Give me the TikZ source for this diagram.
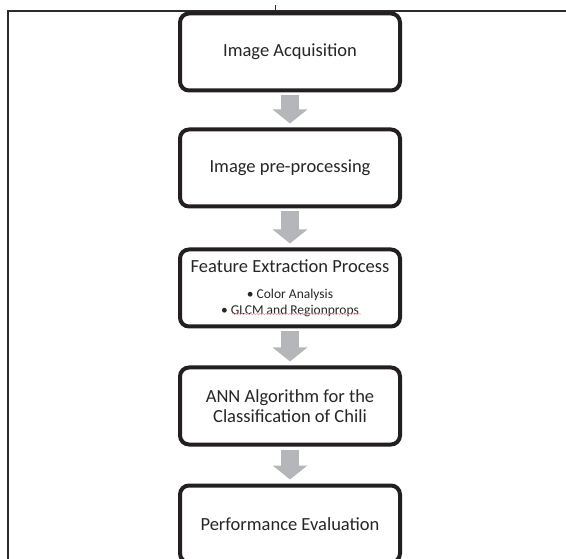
\documentclass[tikz,border=0pt]{standalone}
\usepackage{fontspec}
\setmainfont{Carlito}
\usepackage{xcolor}
\usepackage{tikz}
\usetikzlibrary{arrows.meta,positioning,decorations.pathmorphing}
\definecolor{boxline}{HTML}{231F20}
\definecolor{flowgray}{HTML}{B4B6B9}
\definecolor{frameline}{HTML}{2B2B2B}
\definecolor{ink}{HTML}{262626}
\definecolor{squiggle}{HTML}{E8A0A8}
\newcommand{\bulletfont}{\fontsize{13.5}{16}\selectfont}

\begin{document}
\begin{tikzpicture}[x=1pt,y=-1pt,
  stage/.style={draw=boxline,line width=4pt,rounded corners=9pt,fill=white,
    minimum width=220pt,minimum height=77pt,inner sep=0pt,align=center,
    text=ink,font=\fontsize{18.5}{20}\selectfont},
  flow/.style={flowgray,line width=18pt,-{Triangle[width=34pt,length=14pt]}}]
  \useasboundingbox (0,0) rectangle (566,559);
  % page frame
  \draw[frameline,line width=1.5pt] (8,559) -- (8,11) -- (566,11);
  \draw[frameline,line width=1pt] (275,5) -- (275,11);
  % stages
  \node[stage] (acq) at (290,52) {Image Acquisition};
  \node[stage,below=35pt of acq] (prep) {Image pre-processing};
  \node[stage,below=39pt of prep] (feat) {Feature Extraction Process\\[6pt]{\bulletfont • Color Analysis}\\[-4pt]{\bulletfont • GLCM and Regionprops}};
  \node[stage,below=37pt of feat] (ann) {ANN Algorithm for the\\Classification of Chili};
  \node[stage,below=37pt of ann] (eval) {Performance Evaluation};
  \draw[squiggle,line width=.6pt,decorate,decoration={snake,amplitude=.7pt,segment length=3pt}]
    ([shift={(-58,26)}]feat.center) -- ([shift={(71,26)}]feat.center);
  % flow arrows
  \foreach \a/\b in {acq/prep,prep/feat,feat/ann,ann/eval}
    \draw[flow] ([yshift=-3pt]\a.south) -- ([yshift=4pt]\b.north);
\end{tikzpicture}
\end{document}
